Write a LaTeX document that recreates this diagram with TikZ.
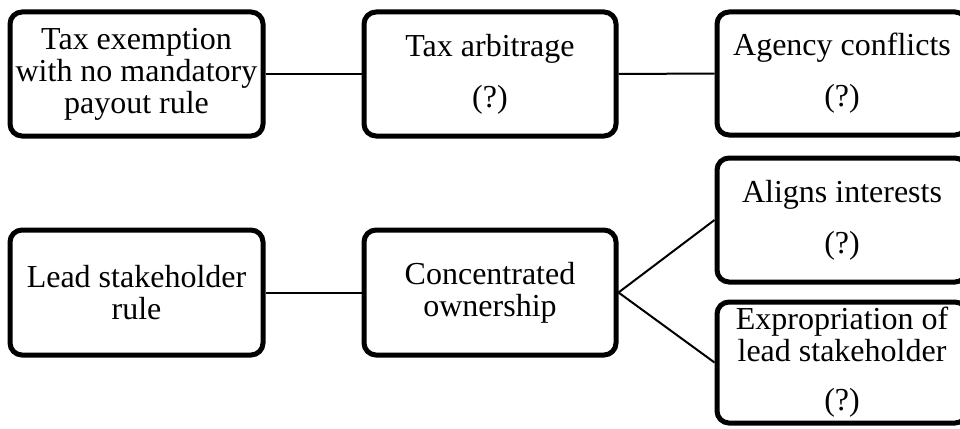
\documentclass[tikz,border=0pt]{standalone}
\usepackage{fontspec}
\setmainfont{Liberation Serif}
\begin{document}
\begin{tikzpicture}[x=1pt,y=-1pt,
  box/.style={draw,line width=5pt,rounded corners=12pt,align=center,inner sep=0pt,
    font=\fontsize{32}{32}\selectfont},
  link/.style={line width=2pt}]
\useasboundingbox (0,0) rectangle (960,428);
\clip (0,0) rectangle (960,428);
\node[box,minimum width=253pt,minimum height=124pt] (b1) at (136.5,74) {Tax exemption\\with no mandatory\\payout rule};
\node[box,minimum width=252pt,minimum height=124pt] (b2) at (490,74) {Tax arbitrage\\[19pt](?)};
\node[box,minimum width=250pt,minimum height=123pt] (b3) at (842,73.5) {Agency conflicts\\[19pt](?)};
\node[box,minimum width=253pt,minimum height=125pt] (b4) at (136.5,292.5) {Lead stakeholder\\rule};
\node[box,minimum width=252pt,minimum height=125pt] (b5) at (490,292.5) {Concentrated\\ownership};
\node[box,minimum width=250pt,minimum height=124pt] (b6) at (842,220) {Aligns interests\\[19pt](?)};
\node[box,minimum width=250pt,minimum height=121pt] (b7) at (842,362.5) {Expropriation of\\lead stakeholder\\[17pt](?)};
\draw[link] (b1.east) -- (b2.west);
\draw[link] (b2.east) -- (b3.west);
\draw[link] (b4.east) -- (b5.west);
\draw[link] (b5.east) -- (b6.west);
\draw[link] (b5.east) -- (b7.west);
\end{tikzpicture}
\end{document}
